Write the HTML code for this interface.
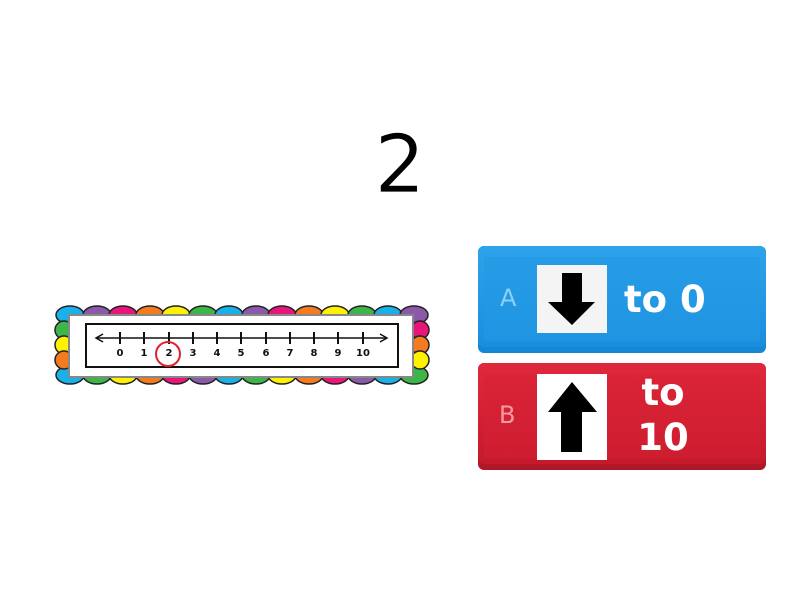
<!DOCTYPE html>
<html><head><meta charset="utf-8"><style>
html,body{margin:0;padding:0;background:#fff;width:800px;height:600px;overflow:hidden}
</style></head><body>
<svg width="800" height="600" viewBox="0 0 800 600" xmlns="http://www.w3.org/2000/svg" font-family="'DejaVu Sans','Liberation Sans',sans-serif">
<defs>
<linearGradient id="bl" x1="0" y1="0" x2="0" y2="1"><stop offset="0" stop-color="#2ea3ea"/><stop offset="1" stop-color="#1a8ede"/></linearGradient>
<linearGradient id="rd" x1="0" y1="0" x2="0" y2="1"><stop offset="0" stop-color="#e0283c"/><stop offset="1" stop-color="#c41a2c"/></linearGradient>
</defs>
<text x="400" y="192" font-size="80" text-anchor="middle" fill="#000" stroke="#fff" stroke-width="0.8">2</text>

<g stroke="#222" stroke-width="1.5">
<ellipse cx="70" cy="315" rx="14" ry="9" fill="#1ab0ea"/>
<ellipse cx="97" cy="315" rx="14" ry="9" fill="#8a5aa8"/>
<ellipse cx="123" cy="315" rx="14" ry="9" fill="#e8157a"/>
<ellipse cx="150" cy="315" rx="14" ry="9" fill="#f47b20"/>
<ellipse cx="176" cy="315" rx="14" ry="9" fill="#fff200"/>
<ellipse cx="203" cy="315" rx="14" ry="9" fill="#3cb648"/>
<ellipse cx="229" cy="315" rx="14" ry="9" fill="#1ab0ea"/>
<ellipse cx="256" cy="315" rx="14" ry="9" fill="#8a5aa8"/>
<ellipse cx="282" cy="315" rx="14" ry="9" fill="#e8157a"/>
<ellipse cx="309" cy="315" rx="14" ry="9" fill="#f47b20"/>
<ellipse cx="335" cy="315" rx="14" ry="9" fill="#fff200"/>
<ellipse cx="362" cy="315" rx="14" ry="9" fill="#3cb648"/>
<ellipse cx="388" cy="315" rx="14" ry="9" fill="#1ab0ea"/>
<ellipse cx="414" cy="315" rx="14" ry="9" fill="#8a5aa8"/>
<ellipse cx="70" cy="375" rx="14" ry="9" fill="#1ab0ea"/>
<ellipse cx="97" cy="375" rx="14" ry="9" fill="#3cb648"/>
<ellipse cx="123" cy="375" rx="14" ry="9" fill="#fff200"/>
<ellipse cx="150" cy="375" rx="14" ry="9" fill="#f47b20"/>
<ellipse cx="176" cy="375" rx="14" ry="9" fill="#e8157a"/>
<ellipse cx="203" cy="375" rx="14" ry="9" fill="#8a5aa8"/>
<ellipse cx="229" cy="375" rx="14" ry="9" fill="#1ab0ea"/>
<ellipse cx="256" cy="375" rx="14" ry="9" fill="#3cb648"/>
<ellipse cx="282" cy="375" rx="14" ry="9" fill="#fff200"/>
<ellipse cx="309" cy="375" rx="14" ry="9" fill="#f47b20"/>
<ellipse cx="335" cy="375" rx="14" ry="9" fill="#e8157a"/>
<ellipse cx="362" cy="375" rx="14" ry="9" fill="#8a5aa8"/>
<ellipse cx="388" cy="375" rx="14" ry="9" fill="#1ab0ea"/>
<ellipse cx="414" cy="375" rx="14" ry="9" fill="#3cb648"/>
<ellipse cx="64" cy="330" rx="9" ry="9" fill="#3cb648"/>
<ellipse cx="64" cy="345" rx="9" ry="9" fill="#fff200"/>
<ellipse cx="64" cy="360" rx="9" ry="9" fill="#f47b20"/>
<ellipse cx="420" cy="330" rx="9" ry="9" fill="#e8157a"/>
<ellipse cx="420" cy="345" rx="9" ry="9" fill="#f47b20"/>
<ellipse cx="420" cy="360" rx="9" ry="9" fill="#fff200"/>
</g>
<rect x="69" y="315" width="344" height="62" fill="#fff" stroke="#888" stroke-width="2"/>
<rect x="86" y="324" width="312" height="43" fill="#fff" stroke="#111" stroke-width="2"/>
<line x1="97" y1="338" x2="386" y2="338" stroke="#111" stroke-width="1.5"/>
<path d="M103 334 L96 338 L103 342 M380 334 L387 338 L380 342" fill="none" stroke="#111" stroke-width="1.5"/>
<g stroke="#111" stroke-width="2">
<line x1="120" y1="332" x2="120" y2="344"/><line x1="144" y1="332" x2="144" y2="344"/><line x1="169" y1="332" x2="169" y2="344"/><line x1="193" y1="332" x2="193" y2="344"/><line x1="217" y1="332" x2="217" y2="344"/><line x1="241" y1="332" x2="241" y2="344"/><line x1="266" y1="332" x2="266" y2="344"/><line x1="290" y1="332" x2="290" y2="344"/><line x1="314" y1="332" x2="314" y2="344"/><line x1="338" y1="332" x2="338" y2="344"/><line x1="363" y1="332" x2="363" y2="344"/>
</g>
<g font-size="10" font-weight="bold" text-anchor="middle" fill="#111">
<text x="120" y="356">0</text><text x="144" y="356">1</text><text x="169" y="356">2</text><text x="193" y="356">3</text><text x="217" y="356">4</text><text x="241" y="356">5</text><text x="266" y="356">6</text><text x="290" y="356">7</text><text x="314" y="356">8</text><text x="338" y="356">9</text><text x="363" y="356">10</text>
</g>
<circle cx="168" cy="354" r="12" fill="none" stroke="#e0202a" stroke-width="2"/>

<rect x="478" y="246" width="288" height="107" rx="6" fill="#1488d2"/>
<rect x="478" y="246" width="288" height="101" rx="6" fill="url(#bl)"/>
<rect x="484" y="257" width="276" height="84" fill="#2399e4" opacity="0.6"/>
<text x="500" y="306" font-size="24" fill="#8fd0f5">A</text>
<rect x="537" y="265" width="70" height="68" fill="#f4f4f4"/>
<path d="M562 273 H582 V302 H595 L572 325 L548 302 H562 Z" fill="#000"/>
<text x="624" y="312" font-size="37" font-weight="bold" fill="#fff">to 0</text>

<rect x="478" y="363" width="288" height="107" rx="6" fill="#b0182a"/>
<rect x="478" y="363" width="288" height="101" rx="6" fill="url(#rd)"/>
<rect x="484" y="375" width="276" height="84" fill="#d82033" opacity="0.5"/>
<text x="499" y="423" font-size="24" fill="#f59aa4">B</text>
<rect x="537" y="374" width="70" height="86" fill="#fff"/>
<path d="M561 452 H582 V412 H597 L572 382 L548 412 H561 Z" fill="#000"/>
<text x="663" y="405" font-size="37" font-weight="bold" fill="#fff" text-anchor="middle">to</text>
<text x="663" y="450" font-size="37" font-weight="bold" fill="#fff" text-anchor="middle">10</text>
</svg>
</body></html>
